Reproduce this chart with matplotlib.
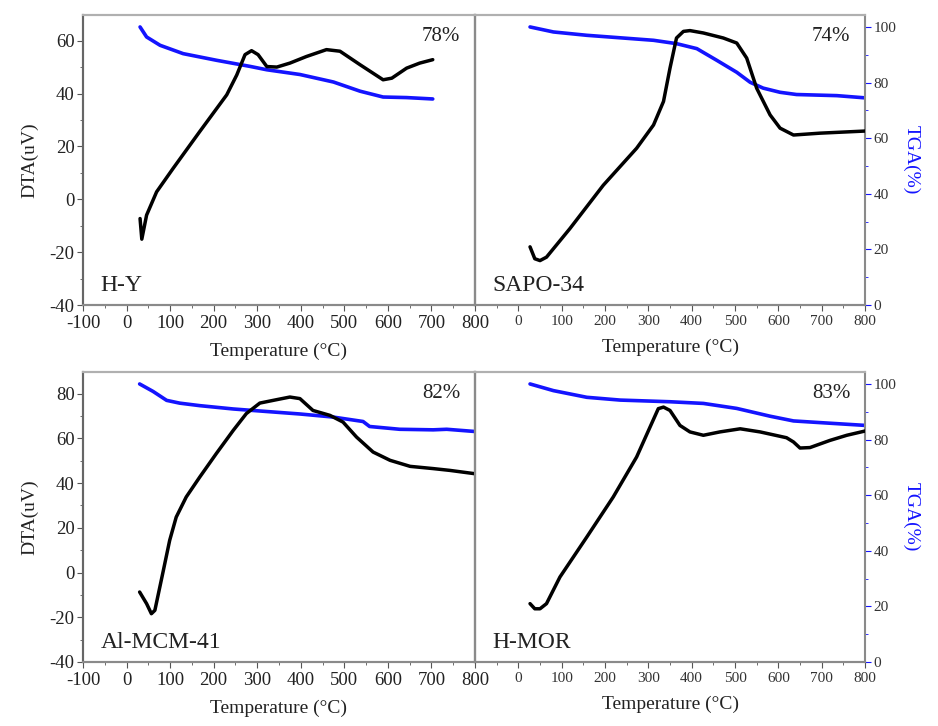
import numpy as np
import matplotlib
matplotlib.use("Agg")
import matplotlib.pyplot as plt
from matplotlib.ticker import MultipleLocator

plt.rcParams['font.family'] = ['Liberation Serif', 'DejaVu Serif']
plt.rcParams['axes.unicode_minus'] = False

# ---- data ----
names = ["H-Y", "SAPO-34", "Al-MCM-41", "H-MOR"]
losses = ["78%", "74%", "82%", "83%"]

hy_t = [31, 35, 46, 69, 107, 168, 230, 253, 272, 287, 302, 322, 345, 375, 413,
        459, 490, 536, 589, 609, 643, 673, 703]
hy_dta = [-7.3, -15.1, -6, 2.8, 11.7, 25.6, 39.5, 47, 54.7, 56.2, 54.7, 50.2, 50,
          51.5, 54, 56.6, 56, 50.9, 45.2, 45.8, 49.6, 51.5, 52.8]
hy_tga_t = [31, 46, 77, 130, 207, 284, 322, 398, 475, 536, 589, 643, 703]
hy_tga = [100, 96.4, 93.4, 90.4, 88, 85.8, 84.6, 82.9, 80.2, 76.9, 74.8, 74.6, 74.1]

sapo_t = [27, 38, 50, 65, 119, 196, 273, 312, 335, 350, 365, 381, 396, 427, 473,
          504, 527, 550, 581, 604, 635, 696, 800]
sapo_dta = [-18, -22.5, -23.2, -21.9, -11.1, 5.3, 19.3, 28.1, 37, 49.6, 61, 63.5,
            63.8, 62.9, 61, 59.1, 53.4, 42, 31.9, 26.9, 24.3, 25, 25.8]
sapo_tga_t = [27, 81, 158, 235, 312, 365, 412, 458, 504, 535, 565, 604, 642, 735, 800]
sapo_tga = [100, 98.2, 97, 96.1, 95.2, 94, 92.2, 88, 83.7, 80.1, 78, 76.5, 75.7,
            75.3, 74.5]

mcm_t = [30, 46, 57, 65, 84, 99, 114, 137, 168, 206, 245, 275, 306, 344, 375, 398,
         428, 467, 497, 528, 566, 605, 651, 704, 742, 800]
mcm_dta = [-8.7, -13.9, -18.4, -16.9, 0.5, 14.4, 24.8, 33.8, 42.7, 53.2, 63.6, 71.1,
           75.8, 77.3, 78.5, 77.8, 72.5, 70.3, 67.3, 60.6, 53.9, 50.2, 47.5, 46.5,
           45.7, 44.2]
mcm_tga_t = [30, 61, 92, 122, 168, 245, 321, 398, 474, 543, 558, 627, 704, 735, 800]
mcm_tga = [100, 97.3, 94.1, 93.1, 92.2, 91, 90.1, 89.2, 88.1, 86.5, 84.7, 83.7,
           83.5, 83.7, 82.9]

mor_t = [27, 38, 50, 65, 96, 158, 219, 273, 304, 323, 335, 350, 373, 396, 427, 465,
         512, 558, 619, 635, 650, 673, 719, 758, 800]
mor_dta = [-13.9, -16.2, -16.2, -13.9, -2, 15.9, 33.8, 51.7, 65.1, 73.3, 74, 72.5,
           65.8, 62.9, 61.4, 62.9, 64.3, 62.9, 60.3, 58.4, 55.7, 55.9, 59.1, 61.4, 63.3]
mor_tga_t = [27, 81, 158, 235, 350, 427, 504, 581, 635, 696, 800]
mor_tga = [100, 97.6, 95.2, 94.2, 93.6, 93, 91.2, 88.4, 86.7, 86.1, 85.1]

dta_data = [(hy_t, hy_dta), (sapo_t, sapo_dta), (mcm_t, mcm_dta), (mor_t, mor_dta)]
tga_data = [(hy_tga_t, hy_tga), (sapo_tga_t, sapo_tga), (mcm_tga_t, mcm_tga),
            (mor_tga_t, mor_tga)]
dta_lims = [(-40, 69.7), (-40, 89.7)]

blue = '#1414ff'
spine_grey = '#8a8a8a'

fig = plt.figure(figsize=(9.38, 7.26), dpi=100)

# panel boxes in pixels: left, top, right, bottom
boxes = [(83, 15, 475, 305), (475, 15, 865, 305),
         (83, 372, 475, 662), (475, 372, 865, 662)]

for i in range(4):
    l, t, r, b = boxes[i]
    ax = fig.add_axes([l / 938, 1 - b / 726, (r - l) / 938, (b - t) / 726])
    tw = ax.twinx()
    row = i // 2
    right = i % 2 == 1

    ax.plot(dta_data[i][0], dta_data[i][1], color='black', lw=2.5, zorder=3,
            solid_joinstyle='round', solid_capstyle='round')
    tw.plot(tga_data[i][0], tga_data[i][1], color=blue, lw=2.6, zorder=2,
            solid_joinstyle='round', solid_capstyle='round')

    ax.set_xlim(-100, 800)
    ax.set_ylim(*dta_lims[row])
    tw.set_ylim(0, 104.3)
    ax.set_zorder(tw.get_zorder() + 1)
    ax.patch.set_visible(False)

    ax.xaxis.set_minor_locator(MultipleLocator(50))
    ax.tick_params(axis='x', which='major', direction='out', length=4, color='#555555')
    ax.tick_params(axis='x', which='minor', direction='out', length=2, color='#555555')

    for s in ['top', 'left', 'right', 'bottom']:
        ax.spines[s].set_color(spine_grey)
        tw.spines[s].set_color(spine_grey)
        ax.spines[s].set_linewidth(1.5)
        tw.spines[s].set_linewidth(1.5)
    ax.spines['top'].set_color('#b0b0b0')
    tw.spines['top'].set_color('#b0b0b0')

    if not right:
        ax.set_xticks(range(-100, 900, 100))
        ax.tick_params(axis='x', labelsize=13.5, labelcolor='#222222', pad=3)
        ax.yaxis.set_major_locator(MultipleLocator(20))
        ax.yaxis.set_minor_locator(MultipleLocator(10))
        ax.tick_params(axis='y', which='major', direction='out', length=4,
                       labelsize=13.5, labelcolor='#222222', color='#555555', pad=2)
        ax.tick_params(axis='y', which='minor', direction='out', length=2, color='#555555')
        ax.spines['left'].set_color('#666666')
        ax.set_ylabel('DTA(uV)', fontsize=14, color='#222222', labelpad=8)
        tw.set_yticks([])
        tw.set_yticks([], minor=True)
    else:
        ax.set_xticks(range(0, 900, 100))
        ax.tick_params(axis='x', labelsize=11, labelcolor='#333333', pad=3)
        ax.set_yticks([])
        ax.set_yticks([], minor=True)
        tw.yaxis.set_major_locator(MultipleLocator(20))
        tw.yaxis.set_minor_locator(MultipleLocator(10))
        tw.tick_params(axis='y', which='major', direction='out', length=4,
                       labelsize=11, labelcolor='#333333', color=blue, pad=2)
        tw.tick_params(axis='y', which='minor', direction='out', length=2, color=blue)
        tw.spines['right'].set_color(blue)
        tw.spines['right'].set_linewidth(1.2)
        tw.set_ylabel('TGA(%)', fontsize=14, color=blue, rotation=270, labelpad=17)

    ax.text(0.045, 0.03, names[i], transform=ax.transAxes, fontsize=17,
            color='#222222', ha='left', va='bottom')
    ax.text(0.962, 0.925, losses[i], transform=ax.transAxes, fontsize=15,
            color='#222222', ha='right', va='center')
    ax.set_xlabel('Temperature (°C)', fontsize=14, color='#222222', labelpad=8)

fig.savefig('out.png', dpi=100)
